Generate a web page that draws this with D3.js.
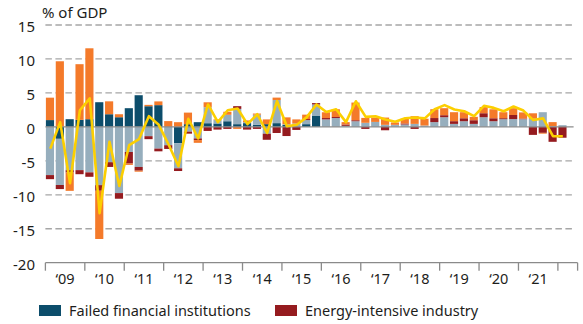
<!DOCTYPE html>
<html>
<head>
<meta charset="utf-8">
<script src="https://cdn.jsdelivr.net/npm/d3@7"></script>
<style>
  body { margin: 0; background: #fff; }
  svg { display: block; }
  text { font-family: "Noto Sans", sans-serif; fill: #1d1d1b; }
</style>
</head>
<body>
<svg id="chart" width="583" height="324"></svg>
<script>
// Quarterly observations, 2009 Q1 – 2022 Q1
const firstYear = 2009;
const quarters = [];
for (let y = 2009; y <= 2022; y++) for (let q = 1; q <= 4; q++) if (!(y === 2022 && q > 1)) quarters.push(y + " Q" + q);

// Contributions, % of GDP
const failedFinancial = [1.0, -1.76, 1.13, 1.03, 1.13, 3.63, 1.86, 1.42, 2.75, 4.66, 3.04, 3.2, 0, -2.4, 0.4, 0.69,
  0.54, 0.5, 0.83, 0.4, 0.55, 0.3, 0.4, 0.55, 0.3, 0, 0.4, 1.6, 0, 0, 0, 0,
  0, 0, 0, 0, 0, 0, 0, 0, 0, 0, 0, 0, 0, 0, 0, 0, 0, 0, 0, 0, 0];
const otherSectors = [-7.1, -6.8, -6.37, -6.37, -6.7, -8.58, -5.2, -9.75, -3.7, -5.9, -1.37, -3.2, -2.7, -3.7, -0.7, -1.7,
  2.35, 0.5, 0.95, 2.25, 0.15, 1.5, -1.0, 3.4, 0.1, 0.5, 0.6, 1.7, 1.1, 1.3, 0.15, 0.83,
  0.6, 0.73, 0.3, 0.3, 0.35, 0.44, 0.2, 0.7, 1.42, 0.44, 0.83, 0.44, 1.42, 0.83, 1.13, 1.15, 1.13, 1.2, 2.16, 0.1, 0.25];
const energyIntensive = [-0.6, -0.6, -0.35, -0.6, -0.65, -0.83, -0.7, -0.83, -1.7, -0.55, -0.44, -0.4, -0.55, -0.4, -0.3, -0.25,
  -0.6, -0.4, -0.3, 0.4, -0.4, -0.3, -0.9, -0.9, -1.35, -0.45, 0.15, 0.2, 0.2, 0.15, 0.2, 0.15,
  -0.3, 0, -0.5, 0, 0.15, -0.3, 0, 0.6, 0.3, 0.4, 0.44, 0.54, 0.59, 0.44, 0.15, 0.6, 0.1, -1.18, -0.88, -2.2, -1.6];
const households = [3.3, 9.66, -2.7, 8.2, 10.44, -7.1, 1.9, 0.44, -0.2, -0.15, 0.2, 0.55, 0.85, 0.69, 1.7, -0.4,
  0.73, 0.1, 0.45, -0.3, 0.25, 0.16, 0.7, 0.36, 1.0, 0.6, 0.65, 0, 0.85, 1.15, 0.35, 2.6,
  0.72, 0.64, 1.07, 0.35, 0.7, 1.13, 1.0, 1.3, 1.03, 1.32, 0.89, 0.5, 0.9, 1.32, 0.88, 1.0, 0.9, 0.8, -0.12, 0.6, 0];
const total = [-3.2, 0.7, -8.3, 2.45, 4.2, -12.7, -2.2, -8.7, -2.7, -1.8, 1.57, 0.3, -2.6, -5.8, 1.2, -1.7,
  3.3, 0.7, 2.45, 2.7, 0.4, 1.86, -0.9, 3.8, 0.1, 0.3, 1.4, 3.3, 2.2, 2.6, 0.7, 3.77,
  1.47, 1.57, 1.1, 0.75, 1.27, 1.37, 1.25, 2.6, 3.2, 2.55, 2.3, 1.57, 3.1, 2.8, 2.3, 3.0, 2.4, 1.0, 1.25, -1.37, -1.37];

const yTicks = [15, 10, 5, 0, -5, -10, -15, -20];
const yearLabels = ["‘09", "‘10", "‘11", "‘12", "‘13", "‘14", "‘15", "‘16", "‘17", "‘18", "‘19", "‘20", "‘21"];
const yearTicks = [2009, 2010, 2011, 2012, 2013, 2014, 2015, 2016, 2017, 2018, 2019, 2020, 2021, 2022, 2022.5];

const seriesKeys = ["failed", "other", "energy", "households"];
const colors = { failed: "#0c4d6b", other: "#96aebd", energy: "#951b1f", households: "#f47a2a" };
const legendItems = [
  { key: "failed", label: "Failed financial institutions" },
  { key: "energy", label: "Energy-intensive industry" }
];

const rows = quarters.map((q, i) => ({
  q, i,
  failed: failedFinancial[i], other: otherSectors[i],
  energy: energyIntensive[i], households: households[i]
}));

const svg = d3.select("#chart");
const x0 = 45.4, x1 = 577.6;
const x = d3.scaleLinear().domain([2009, 2022.5]).range([x0, x1]);
const y = d3.scaleLinear().domain([-20, 15]).range([262.7, 25]);
const qw = x(2009.25) - x(2009);
const tOf = i => firstYear + i / 4;

// Gridlines
svg.append("g").selectAll("line")
  .data(yTicks.filter(v => v !== 0 && v !== -20))
  .join("line")
  .attr("x1", x0).attr("x2", x1 - 4)
  .attr("y1", d => y(d)).attr("y2", d => y(d))
  .attr("stroke", "#a6a6a6").attr("stroke-width", 1.3)
  .attr("stroke-dasharray", "6.5,3.5");

// Y labels
svg.append("g").selectAll("text")
  .data(yTicks)
  .join("text")
  .attr("x", 35).attr("y", d => y(d) + 7.3)
  .attr("text-anchor", "end")
  .style("font-size", "15px")
  .text(d => String(d));

svg.append("text").attr("x", 42).attr("y", 18)
  .style("font-size", "15px").text("% of GDP");

// Stacked bars
const stack = d3.stack().keys(seriesKeys).offset(d3.stackOffsetDiverging);
const layers = stack(rows);
svg.append("g").selectAll("g")
  .data(layers)
  .join("g")
  .attr("fill", d => colors[d.key])
  .selectAll("rect")
  .data(d => d)
  .join("rect")
  .attr("x", d => x(tOf(d.data.i)) + 0.5)
  .attr("width", qw - 1.7)
  .attr("y", d => y(Math.max(d[0], d[1])))
  .attr("height", d => Math.abs(y(d[0]) - y(d[1])));

// Zero line
svg.append("line")
  .attr("x1", x0).attr("x2", x1 - 4)
  .attr("y1", y(0)).attr("y2", y(0))
  .attr("stroke", "#8c8c8c").attr("stroke-width", 1.2);

// Total
const line = d3.line()
  .x((d, i) => x(tOf(i)) + qw / 2)
  .y(d => y(d));
svg.append("path")
  .datum(total)
  .attr("d", line)
  .attr("fill", "none")
  .attr("stroke", "#fccf00")
  .attr("stroke-width", 2.6)
  .attr("stroke-linejoin", "round");

// X axis
const axisY = y(-20);
svg.append("line")
  .attr("x1", x0).attr("x2", x1)
  .attr("y1", axisY).attr("y2", axisY)
  .attr("stroke", "#8a8a8a").attr("stroke-width", 1.3);
svg.append("g").selectAll("line")
  .data(yearTicks)
  .join("line")
  .attr("x1", d => x(d)).attr("x2", d => x(d))
  .attr("y1", axisY).attr("y2", axisY + 8)
  .attr("stroke", "#8a8a8a").attr("stroke-width", 1.3);
svg.append("g").selectAll("text")
  .data(yearLabels)
  .join("text")
  .attr("x", (d, i) => x(2009 + i + 0.5))
  .attr("y", 284)
  .attr("text-anchor", "middle")
  .style("font-size", "14.5px")
  .text(d => d);

// Legend
const legend = svg.append("g");
const lx = [39, 275];
legendItems.forEach((it, i) => {
  legend.append("rect").attr("x", lx[i]).attr("y", 305).attr("width", 22).attr("height", 11)
    .attr("fill", colors[it.key]);
  legend.append("text").attr("x", lx[i] + 30).attr("y", 316)
    .style("font-size", "14.5px").text(it.label);
});
</script>
</body>
</html>
